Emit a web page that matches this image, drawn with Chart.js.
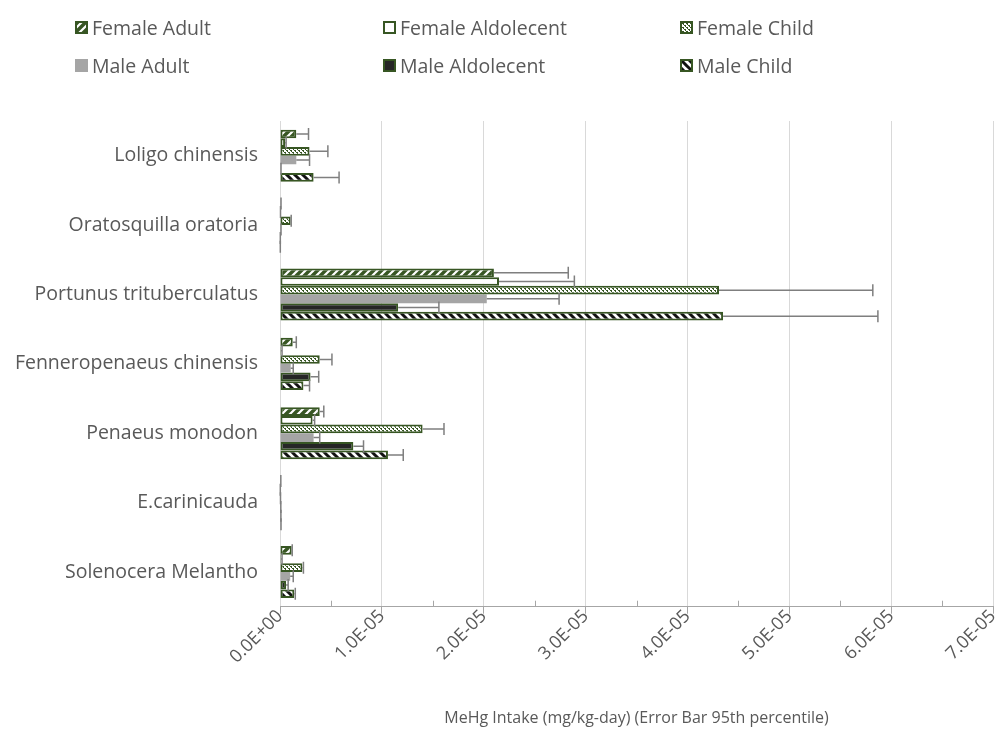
<!DOCTYPE html>
<html>
<head>
<meta charset="utf-8">
<script src="https://cdn.jsdelivr.net/npm/chart.js@4"></script>
<style>
    body { margin: 0; background: #fff; }
    #wrap { position: relative; width: 995px; height: 754px; }
    #legend {
        position: absolute; left: 75px; top: 14px;
        display: grid; grid-template-columns: 308px 297px 220px;
        grid-auto-rows: 38px;
        font-family: 'Open Sans', sans-serif; font-size: 19.5px; color: #595959;
    }
    .item { display: flex; align-items: center; height: 26px; }
    .item canvas { margin-right: 4px; }
</style>
</head>
<body>
<div id="wrap">
    <div id="legend"></div>
    <canvas id="chart" width="995" height="754"></canvas>
</div>
<script>
// MeHg intake by species, sex and age group (mg/kg-day)
const categories = [
    'Loligo chinensis', 'Oratosquilla oratoria', 'Portunus trituberculatus',
    'Fenneropenaeus chinensis', 'Penaeus monodon', 'E.carinicauda', 'Solenocera Melantho'
];

const femaleAdult      = [1.6e-6, 5e-8, 2.10e-5, 1.25e-6, 3.9e-6, 5e-8, 1.15e-6];
const femaleAdolescent = [5e-7,   3e-8, 2.15e-5, 1e-7,    3.2e-6, 2e-8, 1e-7];
const femaleChild      = [2.9e-6, 1.05e-6, 4.31e-5, 3.9e-6, 1.40e-5, 3e-8, 2.2e-6];
const maleAdult        = [1.6e-6, 5e-8, 2.03e-5, 1.05e-6, 3.3e-6, 5e-8, 1.0e-6];
const maleAdolescent   = [5e-8,   2e-8, 1.16e-5, 3.0e-6,  7.2e-6, 5e-8, 6e-7];
const maleChild        = [3.3e-6, 2e-8, 4.35e-5, 2.3e-6,  1.06e-5, 5e-8, 1.4e-6];

// 95th percentile (error bar ends)
const femaleAdultP95      = [2.8e-6, 1e-7, 2.83e-5, 1.6e-6, 4.3e-6, 8e-8, 1.2e-6];
const femaleAdolescentP95 = [6e-7,   5e-8, 2.89e-5, 2e-7,   3.4e-6, 3e-8, 2e-7];
const femaleChildP95      = [4.7e-6, 1.1e-6, 5.82e-5, 5.1e-6, 1.61e-5, 5e-8, 2.3e-6];
const maleAdultP95        = [2.9e-6, 1e-7, 2.74e-5, 1.3e-6, 3.9e-6, 8e-8, 1.3e-6];
const maleAdolescentP95   = [1e-7,   3e-8, 1.56e-5, 3.8e-6, 8.2e-6, 9e-8, 8e-7];
const maleChildP95        = [5.8e-6, 3e-8, 5.87e-5, 2.9e-6, 1.21e-5, 1e-7, 1.5e-6];

const GREEN = '#375623';
const TEXT = '#595959';
const FONT = "'Open Sans', sans-serif";

function makePattern(size, draw) {
    const c = document.createElement('canvas');
    c.width = size; c.height = size;
    const g = c.getContext('2d');
    draw(g, size);
    return g.createPattern(c, 'repeat');
}

const upDiagonal = makePattern(8, (g, s) => {
    g.fillStyle = GREEN; g.fillRect(0, 0, s, s);
    g.strokeStyle = '#fff'; g.lineWidth = 2.2;
    g.beginPath();
    g.moveTo(-2, 2); g.lineTo(2, -2);
    g.moveTo(0, s); g.lineTo(s, 0);
    g.moveTo(s - 2, s + 2); g.lineTo(s + 2, s - 2);
    g.stroke();
});

const downDiagonal = makePattern(8, (g, s) => {
    g.fillStyle = '#fff'; g.fillRect(0, 0, s, s);
    g.strokeStyle = '#111'; g.lineWidth = 3;
    g.beginPath();
    g.moveTo(-2, -2); g.lineTo(s + 2, s + 2);
    g.moveTo(-2, s - 2); g.lineTo(2, s + 2);
    g.moveTo(s - 2, -2); g.lineTo(s + 2, 2);
    g.stroke();
});

const dottedGrid = makePattern(4, (g, s) => {
    g.fillStyle = '#fff'; g.fillRect(0, 0, s, s);
    g.fillStyle = GREEN;
    g.fillRect(0, 0, 2, 1);
    g.fillRect(2, 2, 2, 1);
    g.fillRect(1, 1, 1, 1);
    g.fillRect(3, 3, 1, 1);
});

const series = [
    { label: 'Female Adult', data: femaleAdult, p95: femaleAdultP95, fill: upDiagonal, border: 2 },
    { label: 'Female Aldolecent', data: femaleAdolescent, p95: femaleAdolescentP95, fill: '#ffffff', border: 2 },
    { label: 'Female Child', data: femaleChild, p95: femaleChildP95, fill: dottedGrid, border: 2 },
    { label: 'Male Adult', data: maleAdult, p95: maleAdultP95, fill: '#a5a5a5', border: 0 },
    { label: 'Male Aldolecent', data: maleAdolescent, p95: maleAdolescentP95, fill: '#262626', border: 2 },
    { label: 'Male Child', data: maleChild, p95: maleChildP95, fill: downDiagonal, border: 2 }
];

// legend
const legendEl = document.getElementById('legend');
series.forEach(s => {
    const item = document.createElement('div');
    item.className = 'item';
    const sw = document.createElement('canvas');
    sw.width = 13; sw.height = 13;
    const g = sw.getContext('2d');
    g.fillStyle = s.fill; g.fillRect(0, 0, 13, 13);
    if (s.border) {
        g.strokeStyle = GREEN; g.lineWidth = 2;
        g.strokeRect(1, 1, 11, 11);
    }
    item.appendChild(sw);
    const span = document.createElement('span');
    span.textContent = s.label;
    item.appendChild(span);
    legendEl.appendChild(item);
});

function sci(v) {
    if (v === 0) return '0.0E+00';
    const parts = v.toExponential(1).split('e');
    const n = parseInt(parts[1], 10);
    return parts[0] + 'E' + (n < 0 ? '-' : '+') + String(Math.abs(n)).padStart(2, '0');
}

const errorBars = {
    id: 'errorBars',
    afterDatasetsDraw(chart) {
        const ctx = chart.ctx;
        const xs = chart.scales.x;
        ctx.save();
        ctx.strokeStyle = '#7f7f7f';
        ctx.lineWidth = 1.5;
        chart.data.datasets.forEach((ds, i) => {
            const meta = chart.getDatasetMeta(i);
            meta.data.forEach((bar, j) => {
                const x2 = xs.getPixelForValue(ds.p95[j]);
                ctx.beginPath();
                ctx.moveTo(bar.x, bar.y);
                ctx.lineTo(x2, bar.y);
                ctx.moveTo(x2, bar.y - 6);
                ctx.lineTo(x2, bar.y + 6);
                ctx.stroke();
            });
        });
        ctx.restore();
    }
};

const minorTicks = {
    id: 'minorTicks',
    afterDraw(chart) {
        const ctx = chart.ctx;
        const xs = chart.scales.x;
        const y = chart.chartArea.bottom;
        ctx.save();
        ctx.strokeStyle = '#a6a6a6';
        ctx.lineWidth = 1;
        for (let v = 0.5e-5; v < 7e-5; v += 1e-5) {
            const x = Math.round(xs.getPixelForValue(v)) + 0.5;
            ctx.beginPath();
            ctx.moveTo(x, y - 6);
            ctx.lineTo(x, y);
            ctx.stroke();
        }
        ctx.restore();
    }
};

new Chart(document.getElementById('chart'), {
    type: 'bar',
    data: {
        labels: categories,
        datasets: series.map(s => ({
            label: s.label,
            data: s.data,
            p95: s.p95,
            backgroundColor: s.fill,
            borderColor: GREEN,
            borderWidth: s.border,
            borderSkipped: false,
            barPercentage: 1.0,
            categoryPercentage: 0.75
        }))
    },
    options: {
        responsive: false,
        animation: false,
        indexAxis: 'y',
        layout: { padding: { top: 121, left: 8, right: 2, bottom: 22 } },
        plugins: {
            legend: { display: false },
            tooltip: { enabled: false }
        },
        scales: {
            x: {
                min: 0,
                max: 7e-5,
                afterFit: scale => { scale.paddingRight = 0; scale.paddingLeft = 0; },
                grid: {
                    color: '#d9d9d9',
                    tickColor: '#a6a6a6',
                    tickLength: 7
                },
                border: { color: '#a6a6a6' },
                ticks: {
                    stepSize: 1e-5,
                    minRotation: 45,
                    maxRotation: 45,
                    padding: -8,
                    color: TEXT,
                    font: { family: FONT, size: 18 },
                    callback: v => sci(v)
                },
                title: {
                    display: true,
                    text: 'MeHg Intake (mg/kg-day) (Error Bar 95th percentile)',
                    color: TEXT,
                    font: { family: FONT, size: 16 },
                    padding: { top: 49 }
                }
            },
            y: {
                afterFit: scale => { scale.width = 272; },
                grid: { display: false, drawTicks: false },
                border: { display: false },
                ticks: {
                    color: TEXT,
                    padding: 22,
                    font: { family: FONT, size: 19.5 }
                }
            }
        }
    },
    plugins: [errorBars, minorTicks]
});
</script>
</body>
</html>
